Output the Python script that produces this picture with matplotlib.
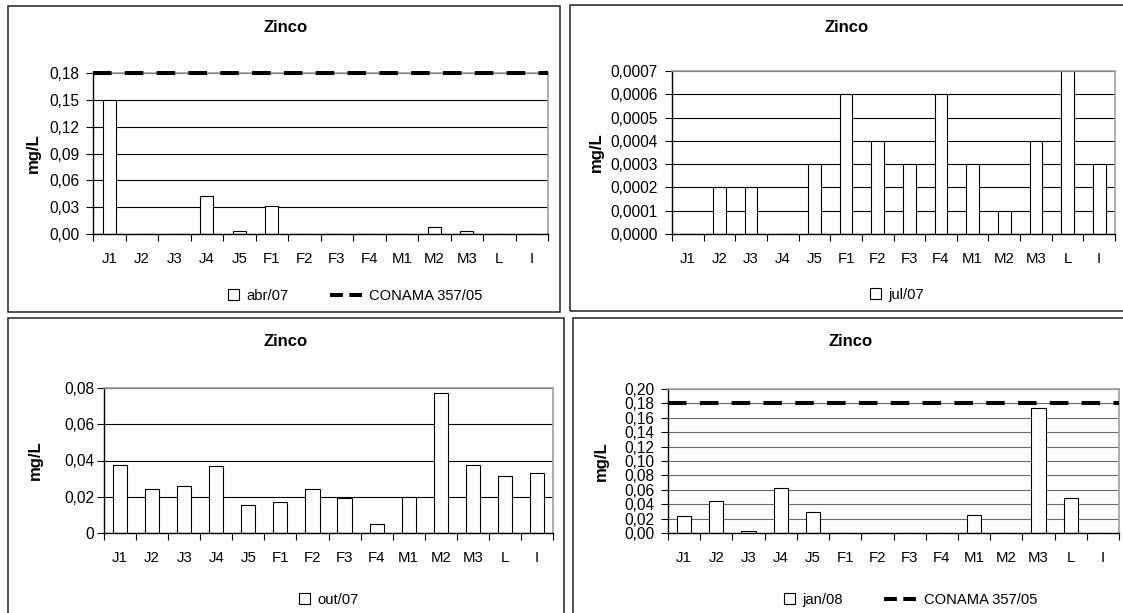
import numpy as np
import matplotlib
matplotlib.use("Agg")
import matplotlib.pyplot as plt
from matplotlib.patches import Rectangle
from matplotlib.lines import Line2D
from matplotlib.legend_handler import HandlerBase
from matplotlib.ticker import FixedLocator, FuncFormatter

plt.rcParams['font.family'] = ['Liberation Sans', 'DejaVu Sans']
plt.rcParams['font.size'] = 10.6

# data
points = ['J1', 'J2', 'J3', 'J4', 'J5', 'F1', 'F2', 'F3', 'F4', 'M1', 'M2', 'M3', 'L', 'I']
abr07 = [0.150, 0, 0, 0.042, 0.003, 0.031, 0, 0, 0, 0, 0.008, 0.003, 0, 0]
jul07 = [0, 0.0002, 0.0002, 0, 0.0003, 0.0006, 0.0004, 0.0003, 0.0006, 0.0003, 0.0001, 0.0004, 0.0007, 0.0003]
out07 = [0.0375, 0.0245, 0.026, 0.037, 0.0155, 0.017, 0.0245, 0.0195, 0.005, 0.020, 0.077, 0.0375, 0.0315, 0.033]
jan08 = [0.023, 0.044, 0.003, 0.062, 0.029, 0, 0, 0, 0, 0.025, 0, 0.174, 0.049, 0]
conama = 0.18
title = 'Zinco'
ylabel = 'mg/L'
limit_label = 'CONAMA 357/05'

W, H = 1123, 613


class SquareHandler(HandlerBase):
    # small white square drawn at the right end of the handle box
    def create_artists(self, legend, orig_handle, xdescent, ydescent, width, height, fontsize, trans):
        s = height * 1.05
        r = Rectangle((-xdescent + width - s, -ydescent + (height - s) / 2), s, s,
                      facecolor='white', edgecolor='black', lw=0.8, transform=trans)
        return [r]


def px(x, y):
    return x / W, 1 - y / H


fig = plt.figure(figsize=(W / 100, H / 100), dpi=100)

# panel frames (pixel boxes)
frames = [(8, 6, 560, 312), (570, 5, 1135, 311), (8, 318, 564, 620), (573, 318, 1135, 620)]
for x0, y0, x1, y1 in frames:
    fig.patches.append(Rectangle((x0 / W, 1 - y1 / H), (x1 - x0) / W, (y1 - y0) / H,
                                 transform=fig.transFigure, fill=False,
                                 edgecolor='#202020', lw=1.1))

panels = [
    dict(vals=abr07, rect=(93, 73, 548, 234), ymax=0.18, step=0.03, fmt='{:.2f}', bw=0.40,
         grid='black', limit=True, season='abr/07', title_xy=(286, 28), ylab_x=-0.114,
         leg_xy=(199, 296), ypad=5),
    dict(vals=jul07, rect=(672, 71, 1115, 234), ymax=0.0007, step=0.0001, fmt='{:.4f}', bw=0.40,
         grid='black', limit=False, season='jul/07', title_xy=(847, 27), ylab_x=-0.153,
         leg_xy=(841, 295), ypad=5),
    dict(vals=out07, rect=(104, 388, 553, 533), ymax=0.08, step=0.02, fmt='{:g}', bw=0.44,
         grid='black', limit=False, season='out/07', title_xy=(286, 341), ylab_x=-0.136,
         leg_xy=(270, 600), ypad=2),
    dict(vals=jan08, rect=(668, 389, 1119, 533), ymax=0.20, step=0.02, fmt='{:.2f}', bw=0.44,
         grid='#6a6a6a', limit=True, season='jan/08', title_xy=(851, 341), ylab_x=-0.131,
         leg_xy=(755, 600), ypad=5),
]

x = np.arange(len(points))

for p in panels:
    x0, y0, x1, y1 = p['rect']
    ax = fig.add_axes([x0 / W, 1 - y1 / H, (x1 - x0) / W, (y1 - y0) / H])
    ax.set_axisbelow(True)
    ax.bar(x, p['vals'], width=p['bw'], facecolor='white', edgecolor='black', lw=0.8, zorder=2)
    ax.set_xlim(-0.5, len(points) - 0.5)
    ax.set_ylim(0, p['ymax'])

    yt = np.arange(0, p['ymax'] + p['step'] / 2, p['step'])
    ax.set_yticks(yt)
    ax.yaxis.set_major_formatter(FuncFormatter(lambda v, pos, f=p['fmt']: f.format(v).replace('.', ',')))
    ax.yaxis.grid(True, color=p['grid'], lw=0.8)
    ax.tick_params(axis='y', direction='out', length=5, width=0.8, pad=p['ypad'], labelsize=11.2)

    # ticks on the category boundaries, labels at the centres
    ax.xaxis.set_major_locator(FixedLocator(np.arange(-0.5, len(points), 1.0)))
    ax.xaxis.set_major_formatter(FuncFormatter(lambda v, pos: ''))
    ax.xaxis.set_minor_locator(FixedLocator(x))
    ax.set_xticklabels(points, minor=True)
    ax.tick_params(axis='x', which='major', direction='out', length=5, width=0.8)
    ax.tick_params(axis='x', which='minor', length=0, pad=13, labelsize=10.8)

    for s in ['left', 'bottom']:
        ax.spines[s].set_color('black')
        ax.spines[s].set_linewidth(1.0)
    for s in ['top', 'right']:
        ax.spines[s].set_color('#a0a0a0')
        ax.spines[s].set_linewidth(1.2)

    ax.set_ylabel(ylabel, fontweight='bold', fontsize=12)
    ax.yaxis.set_label_coords(p['ylab_x'], 0.5)

    tx, ty = px(*p['title_xy'])
    fig.text(tx, ty, title, ha='center', va='center', fontweight='bold', fontsize=12)

    handles = [Rectangle((0, 0), 1, 1)]
    labels = [p['season']]
    if p['limit']:
        ax.axhline(conama, color='black', lw=2.9, linestyle=(0, (4.6, 3.3)), zorder=3, clip_on=False)
        handles.append(Line2D([], [], color='black', lw=2.9, linestyle=(0, (3.2, 1.6))))
        labels.append(limit_label)
    lx, ly = px(*p['leg_xy'])
    ax.legend(handles, labels, loc='center left', bbox_to_anchor=(lx, ly),
              bbox_transform=fig.transFigure, ncol=2, frameon=False, borderpad=0,
              handlelength=2.2, handletextpad=0.5, columnspacing=2.8,
              handler_map={Rectangle: SquareHandler()})

fig.savefig('out.png', dpi=100)
